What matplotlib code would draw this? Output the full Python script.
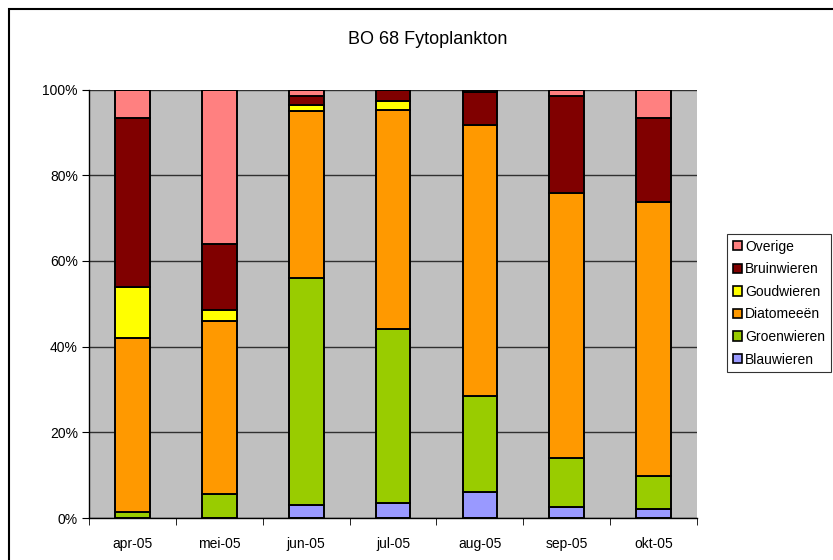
import numpy as np
import matplotlib
matplotlib.use("Agg")
import matplotlib.pyplot as plt
from matplotlib.patches import Rectangle

plt.rcParams['font.family'] = ['Liberation Sans', 'DejaVu Sans']

# --- data (percent per month) ---
months = ["apr-05", "mei-05", "jun-05", "jul-05", "aug-05", "sep-05", "okt-05"]
blauwieren = [0.0, 0.0, 3.0, 3.4, 6.0, 2.6, 2.1]
groenwieren = [1.4, 5.6, 53.1, 40.8, 22.4, 11.5, 7.8]
diatomeeen = [40.6, 40.4, 38.9, 51.1, 63.3, 61.8, 63.9]
goudwieren = [11.9, 2.6, 1.3, 2.1, 0.0, 0.0, 0.0]
bruinwieren = [39.5, 15.4, 2.2, 2.6, 7.7, 22.5, 19.6]
overige = [6.6, 36.0, 1.5, 0.0, 0.6, 1.6, 6.6]

series = [
    ("Blauwieren", blauwieren, "#9999FF"),
    ("Groenwieren", groenwieren, "#99CC00"),
    ("Diatomeeën", diatomeeen, "#FF9900"),
    ("Goudwieren", goudwieren, "#FFFF00"),
    ("Bruinwieren", bruinwieren, "#800000"),
    ("Overige", overige, "#FF8080"),
]

fig = plt.figure(figsize=(8.33, 5.6), dpi=100)
ax = fig.add_axes([0.1068, 0.075, 0.73, 0.765])
ax.set_facecolor("#C0C0C0")

x = np.arange(len(months))
bottom = np.zeros(len(months))
handles = []
for name, vals, color in series:
    vals = np.array(vals)
    b = ax.bar(x, vals, width=0.4, bottom=bottom, color=color,
               edgecolor="black", linewidth=1.4, label=name, zorder=3)
    handles.append(b)
    bottom += vals

ax.set_xlim(-0.5, len(months) - 0.5)
ax.set_ylim(0, 100)
ax.set_xticks(x)
ax.set_xticklabels(months, fontsize=10)
ax.set_xticks(np.arange(-0.5, len(months)), minor=True)
ax.tick_params(axis="x", which="major", length=0, pad=14)
ax.tick_params(axis="x", which="minor", length=5, direction="out", color="black")
ax.set_yticks(np.arange(0, 101, 20))
ax.set_yticklabels(["%d%%" % v for v in range(0, 101, 20)], fontsize=10)
ax.tick_params(axis="y", length=5, direction="out", color="black", pad=3)

ax.yaxis.grid(True, color="#303030", linewidth=1.0, zorder=1)
ax.set_axisbelow(True)
for s in ["top", "right"]:
    ax.spines[s].set_visible(False)
for s in ["left", "bottom"]:
    ax.spines[s].set_color("black")
    ax.spines[s].set_linewidth(1.0)
    ax.spines[s].set_zorder(4)

fig.text(428 / 833, 1 - 40 / 560, "BO 68 Fytoplankton", ha="center", va="center", fontsize=13)

leg = fig.legend(handles[::-1], [s[0] for s in series][::-1],
                 loc="upper left", bbox_to_anchor=(727 / 833, 1 - 234 / 560),
                 fontsize=10, frameon=True, fancybox=False, edgecolor="black",
                 handlelength=0.65, handleheight=0.65, handletextpad=0.25,
                 labelspacing=0.62, borderpad=0.4, borderaxespad=0)
leg.get_frame().set_linewidth(0.8)
for h in leg.legend_handles:
    h.set_linewidth(1.2)

# outer chart border
fig.patches.append(Rectangle((9 / 833, -0.1), 1.0, 1 - 9 / 560 + 0.1,
                             transform=fig.transFigure, fill=False,
                             edgecolor="black", linewidth=1.5))

plt.savefig("out.png", dpi=100)
